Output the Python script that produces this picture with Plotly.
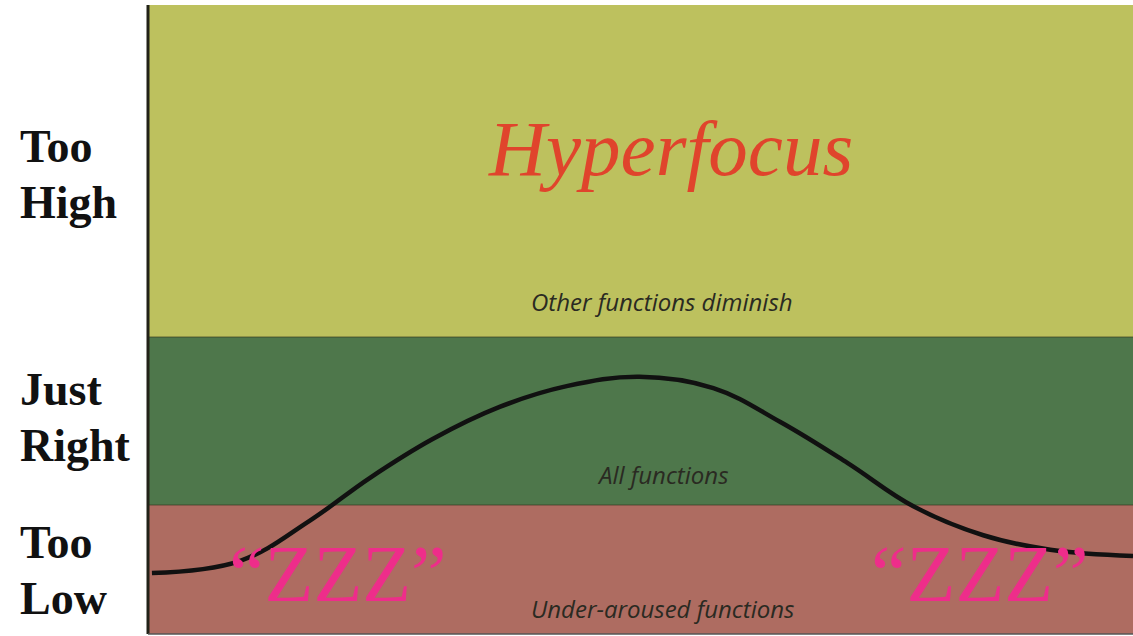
import plotly.graph_objects as go

# arousal bands (bottom to top), values on a 0-100 scale
band_names = ["Too Low", "Just Right", "Too High"]
band_lower = [0, 20.5, 47.2]
band_upper = [20.5, 47.2, 100]
band_colors = ["#AE6C61", "#4E774B", "#BDC15E"]
band_notes = ["Under-aroused functions", "All functions", "Other functions diminish"]
note_y = [4.1, 25.4, 52.8]

# performance curve
curve_x = [0.4, 9.3, 16.4, 22.5, 28.9, 35.7, 42.5, 49.9, 57.4, 64.2, 71.0, 77.7, 84.8, 91.6, 100]
curve_y = [9.7, 11.6, 18.0, 24.8, 31.0, 36.1, 39.4, 40.9, 39.1, 33.7, 27.2, 20.3, 15.7, 13.4, 12.4]

fig = go.Figure()

for lo, hi, col in zip(band_lower, band_upper, band_colors):
    fig.add_shape(type="rect", xref="x", yref="y", x0=0, x1=100, y0=lo, y1=hi,
                  fillcolor=col, line_width=0, layer="below")
for b in band_upper[:-1]:
    fig.add_shape(type="line", xref="x", yref="y", x0=0, x1=100, y0=b, y1=b,
                  line=dict(color="rgba(50,55,30,0.45)", width=1.5), layer="below")

fig.add_trace(go.Scatter(x=curve_x, y=curve_y, mode="lines",
                         line=dict(color="#111111", width=4.5, shape="spline", smoothing=1.1),
                         hoverinfo="skip", showlegend=False))

# band notes
for txt, yy in zip(band_notes, note_y):
    fig.add_annotation(x=52.2, y=yy, xref="x", yref="y", text=txt, showarrow=False,
                       font=dict(family="Open Sans", size=24, color="#2a2a22", style="italic"))

fig.add_annotation(x=53.0, y=77.2, xref="x", yref="y", text="Hyperfocus", showarrow=False,
                   font=dict(family="Liberation Serif", size=79, color="#E0442C", style="italic"))

for zx in [19.3, 84.5]:
    fig.add_annotation(x=zx, y=9.6, xref="x", yref="y", text="\u201cZZZ\u201d", showarrow=False,
                       font=dict(family="Liberation Serif", size=80, color="#EE2D8A"))

# left-hand level labels
label_words = ["Too", "High", "Just", "Right", "Too", "Low"]
label_y = [77.5, 68.6, 38.9, 29.9, 14.5, 5.6]
for w, yy in zip(label_words, label_y):
    fig.add_annotation(x=-0.132, y=yy, xref="paper", yref="y", text=w, showarrow=False,
                       xanchor="left",
                       font=dict(family="Liberation Serif", size=46, color="#111111", weight="bold"))

fig.update_xaxes(range=[0, 100], visible=False, fixedrange=True)
fig.update_yaxes(range=[0, 100], visible=False, fixedrange=True)
fig.add_shape(type="line", xref="paper", yref="paper", x0=0, x1=0, y0=0, y1=1,
              line=dict(color="#222218", width=3))
fig.add_shape(type="line", xref="paper", yref="paper", x0=0, x1=1, y0=0, y1=0,
              line=dict(color="#555", width=1.5))

fig.update_layout(width=1133, height=636, margin=dict(l=148, r=0, t=5, b=2),
                  paper_bgcolor="white", plot_bgcolor="white", showlegend=False)

fig.write_html("out.html", config={"displayModeBar": False},
               post_script="document.body.style.margin='0';")
